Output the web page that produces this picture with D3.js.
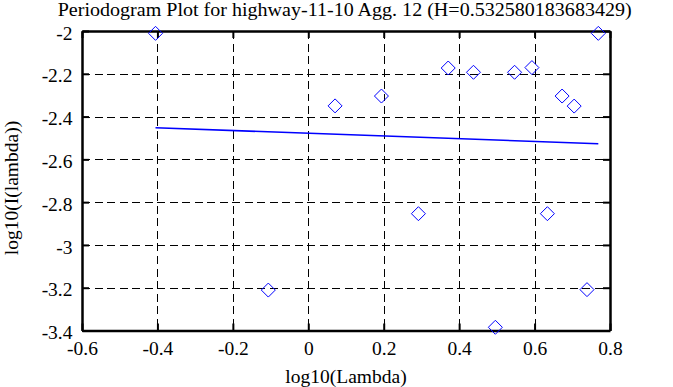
<!DOCTYPE html>
<html>
<head>
<meta charset="utf-8">
<script src="https://cdn.jsdelivr.net/npm/d3@7"></script>
<style>
  body { margin: 0; background: #fff; }
</style>
</head>
<body>
<svg id="chart" width="673" height="387"></svg>
<script>
// periodogram points
const lambdaLog = [-0.405, -0.106, 0.071, 0.194, 0.292, 0.371, 0.438, 0.496,
                   0.547, 0.593, 0.634, 0.673, 0.705, 0.739, 0.769];
const powerLog = [-2.011, -3.211, -2.350, -2.304, -2.854, -2.173, -2.193, -3.385,
                  -2.193, -2.171, -2.854, -2.304, -2.351, -3.209, -2.011];

// least squares fit, end points
const fitX = [-0.405, 0.769];
const fitY = [-2.452, -2.527];

const xTicks = [-0.6, -0.4, -0.2, 0, 0.2, 0.4, 0.6, 0.8];
const yTicks = [-3.4, -3.2, -3, -2.8, -2.6, -2.4, -2.2, -2];

const titleText = 'Periodogram Plot for highway-11-10 Agg. 12 (H=0.532580183683429)';

const FONT = '"Liberation Serif"';
const FSIZE = 19.5;

let svg = d3.select('#chart');
let pLeft = 82, pTop = 31, pRight = 610, pBottom = 330.5;

let x = d3.scaleLinear().domain([-0.6, 0.8]).range([pLeft, pRight]);
let y = d3.scaleLinear().domain([-3.4, -2]).range([pBottom, pTop]);

// dashed grid
let grid = svg.append('g').attr('stroke', '#000').attr('stroke-width', 1)
  .attr('stroke-dasharray', '8,4.5').attr('shape-rendering', 'crispEdges');
grid.selectAll('.gx').data(xTicks.slice(1, -1)).enter()
  .append('line')
    .attr('x1', d => Math.round(x(d)) + 0.5).attr('x2', d => Math.round(x(d)) + 0.5)
    .attr('y1', pTop).attr('y2', pBottom);
grid.selectAll('.gy').data(yTicks.slice(1, -1)).enter()
  .append('line')
    .attr('y1', d => Math.round(y(d)) + 0.5).attr('y2', d => Math.round(y(d)) + 0.5)
    .attr('x1', pLeft).attr('x2', pRight);

// axes with inner ticks
let fmt = d => d3.format('')(d).replace('\u2212', '-');
let axes = [
  [d3.axisBottom(x).tickValues(xTicks).tickFormat(fmt), 'translate(0,' + pBottom + ')', 11],
  [d3.axisTop(x).tickValues(xTicks).tickFormat(''), 'translate(0,' + pTop + ')', 0],
  [d3.axisLeft(y).tickValues(yTicks).tickFormat(fmt), 'translate(' + pLeft + ',0)', 9.5],
  [d3.axisRight(y).tickValues(yTicks).tickFormat(''), 'translate(' + pRight + ',0)', 0]
];
axes.forEach(function(a, i) {
  let g = svg.append('g').attr('transform', a[1])
    .call(a[0].tickSizeInner(-7).tickSizeOuter(0).tickPadding(a[2]))
    .attr('font-family', FONT).attr('font-size', FSIZE);
  g.select('.domain').attr('stroke', '#000').attr('stroke-width', 2.5);
  g.selectAll('.tick line').attr('stroke', '#000').attr('stroke-width', 2);
  g.selectAll('text').attr('fill', '#000');
  if (i == 2) g.selectAll('text').attr('dy', '0.42em');
});

// fitted line
svg.append('line')
  .attr('x1', x(fitX[0])).attr('y1', y(fitY[0]))
  .attr('x2', x(fitX[1])).attr('y2', y(fitY[1]))
  .attr('stroke', '#0000ff').attr('stroke-width', 1.6);

// diamond markers
svg.selectAll('.pt').data(lambdaLog).enter()
  .append('path')
    .attr('class', 'pt')
    .attr('d', function(d, i) {
      let cx = x(d), cy = y(powerLog[i]), r = 7;
      return 'M' + cx + ',' + (cy - r) + 'L' + (cx + r) + ',' + cy +
             'L' + cx + ',' + (cy + r) + 'L' + (cx - r) + ',' + cy + 'Z';
    })
    .attr('fill', 'none')
    .attr('stroke', '#0000ff')
    .attr('stroke-width', 1);

// labels
svg.append('text')
  .attr('x', 344.7).attr('y', 15.5)
  .attr('text-anchor', 'middle')
  .attr('font-family', FONT).attr('font-size', 19.5)
  .attr('textLength', 574).attr('lengthAdjust', 'spacingAndGlyphs')
  .text(titleText);

svg.append('text')
  .attr('x', 346).attr('y', 383)
  .attr('text-anchor', 'middle')
  .attr('font-family', FONT).attr('font-size', FSIZE)
  .text('log10(Lambda)');

svg.append('text')
  .attr('transform', 'translate(18,188) rotate(-90)')
  .attr('text-anchor', 'middle')
  .attr('font-family', FONT).attr('font-size', FSIZE)
  .text('log10(I(lambda))');
</script>
</body>
</html>
